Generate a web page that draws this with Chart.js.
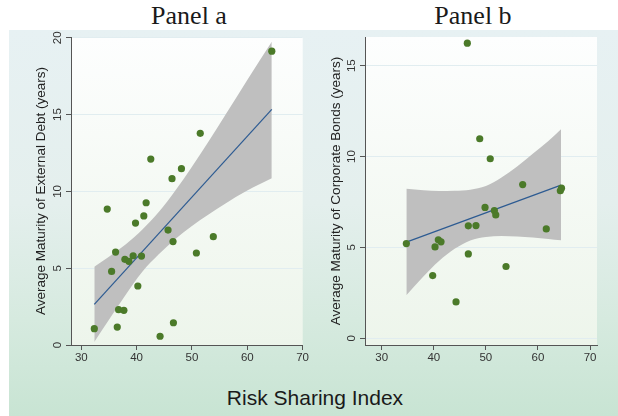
<!DOCTYPE html>
<html>
<head>
<meta charset="utf-8">
<script src="https://cdn.jsdelivr.net/npm/chart.js@4/dist/chart.umd.min.js"></script>
<style>
    html, body { margin: 0; padding: 0; background: #fff; }
    #page { position: relative; width: 618px; height: 416px; overflow: hidden; }
    #bg {
        position: absolute; left: 9px; top: 30px; right: 0; bottom: 0;
        background: linear-gradient(to bottom, #e7f1f3 0%, #e4efed 45%, #d6eadf 75%, #c8e4d3 100%);
    }
    .panel-title {
        position: absolute; top: 3px; width: 160px; text-align: center;
        font-family: "Liberation Serif", "Times New Roman", serif;
        font-size: 26px; line-height: 26px; color: #1a1a1a;
    }
    .chart-box { position: absolute; top: 0; height: 380px; }
    #xlabel {
        position: absolute; left: 165px; width: 300px; top: 387px; text-align: center;
        font-family: "Liberation Sans", Arial, sans-serif;
        font-size: 21px; line-height: 21px; color: #1a1a1a;
    }
</style>
</head>
<body>
<div id="page">
    <div id="bg"></div>
    <div class="panel-title" style="left: 109px;">Panel a</div>
    <div class="panel-title" style="left: 393px;">Panel b</div>
    <div class="chart-box" style="left: 0; width: 310px;"><canvas id="chart-a"></canvas></div>
    <div class="chart-box" style="left: 310px; width: 308px;"><canvas id="chart-b"></canvas></div>
    <div id="xlabel">Risk Sharing Index</div>
</div>

<script>
// shared axis ticks
const xTicks = [30, 40, 50, 60, 70];
const yTicksA = [0, 5, 10, 15, 20];
const yTicksB = [0, 5, 10, 15];

// Panel a: external debt maturity vs risk sharing
const riskA = [64.43, 51.5, 42.56, 48.1, 46.4, 41.72, 34.69, 41.3, 39.8, 45.68, 46.58, 53.86, 50.8,
    36.2, 37.88, 38.6, 39.37, 40.88, 35.48, 40.22, 36.74, 37.7, 32.35, 36.5, 46.65, 44.24];
const debtA = [19.13, 13.78, 12.1, 11.48, 10.83, 9.26, 8.85, 8.4, 7.94, 7.48, 6.73, 7.05, 5.99,
    6.05, 5.58, 5.45, 5.81, 5.79, 4.79, 3.84, 2.3, 2.26, 1.06, 1.17, 1.45, 0.57];
const fitXA = [32.35, 64.43];
const fitYA = [2.65, 15.34];
const bandXA = [32.35, 35, 38, 41, 44, 47, 50, 53, 56, 60, 64.43];
const bandHiA = [5.1, 5.75, 6.55, 7.5, 8.65, 10.05, 11.6, 13.25, 14.95, 17.25, 19.74];
const bandLoA = [0.2, 1.65, 3.25, 4.75, 5.9, 6.9, 7.75, 8.5, 9.2, 10.05, 10.85];

// Panel b: corporate bond maturity vs risk sharing
const riskB = [46.44, 48.82, 50.84, 57.07, 64.3, 64.52, 49.84, 51.63, 51.9, 46.63, 48.1, 61.6,
    34.73, 40.87, 41.39, 40.24, 46.63, 53.87, 39.79, 44.27];
const bondB = [16.24, 10.98, 9.88, 8.46, 8.12, 8.26, 7.2, 7.03, 6.79, 6.19, 6.2, 6.02,
    5.21, 5.42, 5.31, 5.03, 4.64, 3.95, 3.45, 2.0];
const fitXB = [34.73, 64.43];
const fitYB = [5.29, 8.43];
const bandXB = [34.73, 38, 41, 44, 47, 50, 53, 56, 59, 62, 64.43];
const bandHiB = [8.23, 8.15, 8.1, 8.12, 8.18, 8.38, 8.85, 9.45, 10.15, 10.85, 11.5];
const bandLoB = [2.37, 3.4, 4.25, 4.92, 5.38, 5.58, 5.63, 5.6, 5.55, 5.47, 5.39];

const FONT = '"Liberation Sans", Arial, sans-serif';
const AXIS_COLOR = '#555';

const zip = (xs, ys) => xs.map((x, i) => ({ x: x, y: ys[i] }));

// white-to-pale-green fill behind the plot region
const plotBackground = {
    id: 'plotBackground',
    beforeDraw(chart) {
        const { ctx, chartArea: a } = chart;
        const g = ctx.createLinearGradient(0, a.top, 0, a.bottom);
        g.addColorStop(0, '#fdfefe');
        g.addColorStop(1, '#edf5eb');
        ctx.save();
        ctx.fillStyle = g;
        ctx.fillRect(a.left, a.top, a.right - a.left, a.bottom - a.top);
        ctx.restore();
    }
};

function makePanel(id, p) {
    const ctx = document.getElementById(id).getContext('2d');
    return new Chart(ctx, {
        type: 'scatter',
        data: {
            datasets: [
                {
                    data: zip(p.xs, p.ys),
                    backgroundColor: '#4b7a29',
                    borderWidth: 0,
                    pointRadius: 3.6
                },
                {
                    data: zip(p.fitX, p.fitY),
                    showLine: true,
                    borderColor: '#2d5b92',
                    borderWidth: 1.2,
                    pointRadius: 0
                },
                {
                    data: zip(p.bandX, p.bandHi),
                    showLine: true,
                    borderColor: 'transparent',
                    borderWidth: 1,
                    pointRadius: 0,
                    cubicInterpolationMode: 'monotone',
                    backgroundColor: '#bfbfbf',
                    fill: '+1'
                },
                {
                    data: zip(p.bandX, p.bandLo),
                    showLine: true,
                    borderColor: 'transparent',
                    borderWidth: 1,
                    pointRadius: 0,
                    cubicInterpolationMode: 'monotone',
                    fill: false
                }
            ]
        },
        options: {
            responsive: true,
            maintainAspectRatio: false,
            animation: false,
            layout: { padding: { left: 0, top: 37, right: p.padRight, bottom: 0 } },
            plugins: {
                legend: { display: false },
                tooltip: { enabled: false }
            },
            scales: {
                x: {
                    type: 'linear',
                    min: p.xMin,
                    max: p.xMax,
                    afterBuildTicks: s => { s.ticks = xTicks.map(v => ({ value: v })); },
                    afterFit: s => { s.height = 35; },
                    grid: { drawOnChartArea: false, tickLength: 5, tickColor: AXIS_COLOR },
                    border: { color: AXIS_COLOR, width: 1 },
                    ticks: { color: '#333', padding: 1, maxRotation: 0, font: { family: FONT, size: 11.5 } }
                },
                y: {
                    type: 'linear',
                    min: p.yMin,
                    max: p.yMax,
                    afterBuildTicks: s => { s.ticks = p.yTicks.map(v => ({ value: v })); },
                    afterFit: s => { s.width = p.yWidth; },
                    grid: { color: '#e1edf0', lineWidth: 1, tickLength: 5, tickColor: AXIS_COLOR },
                    border: { color: AXIS_COLOR, width: 1 },
                    ticks: {
                        color: '#333', padding: 2, minRotation: 90, maxRotation: 90,
                        crossAlign: 'center', font: { family: FONT, size: 11.5 }
                    },
                    title: {
                        display: true,
                        text: p.yTitle,
                        color: '#222',
                        font: { family: FONT, size: 13.5 },
                        padding: { top: p.titlePad, bottom: 0 }
                    }
                }
            }
        },
        plugins: [plotBackground]
    });
}

makePanel('chart-a', {
    xs: riskA, ys: debtA, fitX: fitXA, fitY: fitYA,
    bandX: bandXA, bandHi: bandHiA, bandLo: bandLoA,
    xMin: 28.14, xMax: 70.02, yMin: 0, yMax: 20.05, yTicks: yTicksA,
    yWidth: 71, padRight: 7, titlePad: 33.6,
    yTitle: 'Average Maturity of External Debt (years)'
});

makePanel('chart-b', {
    xs: riskB, ys: bondB, fitX: fitXB, fitY: fitYB,
    bandX: bandXB, bandHi: bandHiB, bandLo: bandLoB,
    xMin: 26.79, xMax: 71.34, yMin: -0.37, yMax: 16.58, yTicks: yTicksB,
    yWidth: 55, padRight: 21, titlePad: 18.6,
    yTitle: 'Average Maturity of Corporate Bonds (years)'
});
</script>
</body>
</html>
